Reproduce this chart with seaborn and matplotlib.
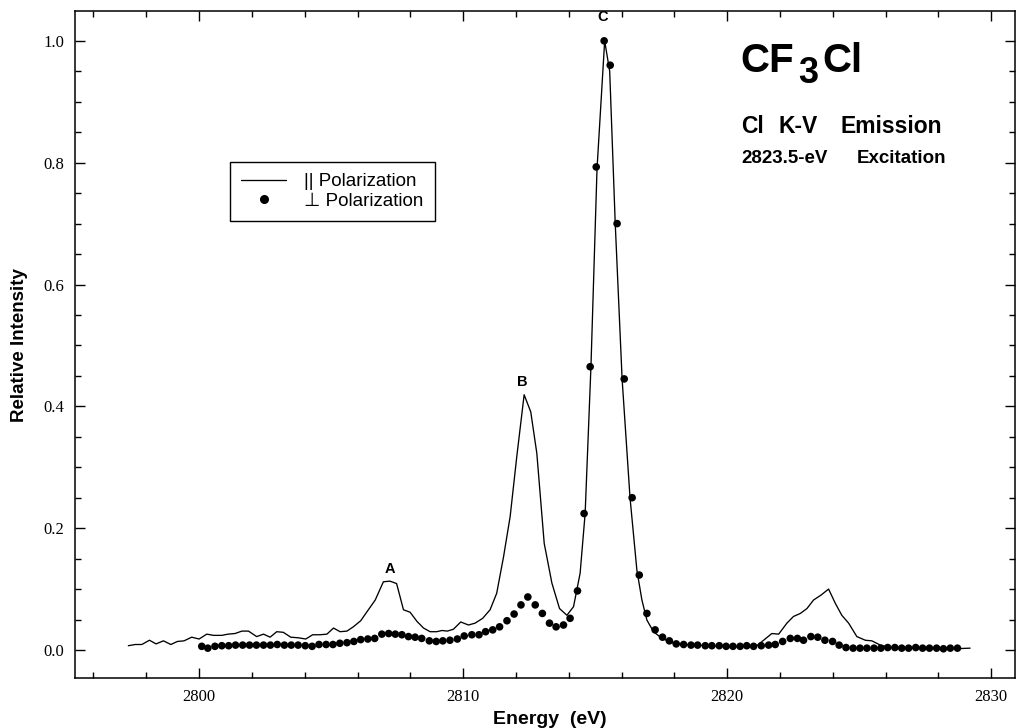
import matplotlib

matplotlib.use("Agg")
import matplotlib.pyplot as plt
import seaborn as sns
from matplotlib.lines import Line2D
from matplotlib.ticker import FormatStrFormatter, MultipleLocator

# parallel polarization (solid line)
para_energy = [
    2797.32, 2797.58, 2797.83, 2798.12, 2798.37, 2798.65, 2798.93, 2799.18, 2799.43, 2799.72,
    2800.00, 2800.29, 2800.55, 2800.86, 2801.10, 2801.36, 2801.62, 2801.87, 2802.18, 2802.44,
    2802.69, 2802.94, 2803.19, 2803.47, 2803.76, 2804.04, 2804.30, 2804.58, 2804.84, 2805.09,
    2805.34, 2805.60, 2805.84, 2806.12, 2806.41, 2806.67, 2806.98, 2807.23, 2807.48, 2807.74,
    2807.99, 2808.25, 2808.50, 2808.75, 2809.00, 2809.20, 2809.40, 2809.63, 2809.91, 2810.20,
    2810.45, 2810.74, 2811.02, 2811.27, 2811.53, 2811.78, 2812.03, 2812.31, 2812.56, 2812.79,
    2813.07, 2813.36, 2813.65, 2813.93, 2814.18, 2814.43, 2814.62, 2814.84, 2815.07, 2815.36,
    2815.55, 2815.76, 2816.02, 2816.32, 2816.58, 2816.77, 2816.96, 2817.21, 2817.53, 2817.97,
    2818.40, 2818.80, 2819.30, 2819.80, 2820.24, 2820.70, 2821.12, 2821.38, 2821.69, 2821.95,
    2822.26, 2822.51, 2822.77, 2823.02, 2823.27, 2823.55, 2823.84, 2824.09, 2824.34, 2824.60,
    2824.91, 2825.23, 2825.48, 2825.80, 2826.20, 2826.80, 2827.40, 2828.00, 2828.60, 2829.20,
]
para_intensity = [
    0.007, 0.009, 0.009, 0.016, 0.010, 0.015, 0.009, 0.014, 0.015, 0.021,
    0.018, 0.026, 0.024, 0.024, 0.026, 0.027, 0.031, 0.031, 0.022, 0.026,
    0.021, 0.030, 0.029, 0.021, 0.020, 0.018, 0.025, 0.025, 0.026, 0.036,
    0.030, 0.031, 0.038, 0.048, 0.066, 0.082, 0.112, 0.113, 0.109, 0.066,
    0.062, 0.047, 0.036, 0.030, 0.030, 0.032, 0.031, 0.034, 0.046, 0.041,
    0.044, 0.052, 0.066, 0.093, 0.153, 0.219, 0.317, 0.419, 0.391, 0.323,
    0.175, 0.110, 0.068, 0.057, 0.071, 0.126, 0.224, 0.465, 0.790, 1.000,
    0.950, 0.700, 0.445, 0.250, 0.131, 0.082, 0.049, 0.030, 0.019, 0.011,
    0.009, 0.008, 0.007, 0.006, 0.005, 0.006, 0.007, 0.016, 0.027, 0.026,
    0.044, 0.055, 0.060, 0.068, 0.082, 0.090, 0.100, 0.077, 0.057, 0.044,
    0.022, 0.016, 0.015, 0.008, 0.004, 0.003, 0.003, 0.003, 0.002, 0.003,
]

# perpendicular polarization (dots)
perp_energy = [
    2800.10, 2800.33, 2800.60, 2800.86, 2801.12, 2801.38, 2801.65, 2801.91, 2802.17, 2802.44,
    2802.70, 2802.96, 2803.23, 2803.49, 2803.75, 2804.02, 2804.28, 2804.54, 2804.81, 2805.07,
    2805.33, 2805.60, 2805.86, 2806.12, 2806.39, 2806.65, 2806.92, 2807.18, 2807.43, 2807.68,
    2807.93, 2808.18, 2808.43, 2808.72, 2808.98, 2809.23, 2809.50, 2809.78, 2810.04, 2810.33,
    2810.60, 2810.85, 2811.12, 2811.38, 2811.66, 2811.93, 2812.19, 2812.45, 2812.73, 2813.00,
    2813.27, 2813.52, 2813.80, 2814.05, 2814.33, 2814.58, 2814.81, 2815.04, 2815.34, 2815.57,
    2815.83, 2816.10, 2816.40, 2816.67, 2816.96, 2817.27, 2817.55, 2817.81, 2818.07, 2818.35,
    2818.63, 2818.88, 2819.17, 2819.42, 2819.70, 2819.96, 2820.22, 2820.49, 2820.74, 2821.00,
    2821.29, 2821.57, 2821.82, 2822.10, 2822.39, 2822.66, 2822.89, 2823.17, 2823.43, 2823.70,
    2823.99, 2824.24, 2824.50, 2824.77, 2825.03, 2825.29, 2825.56, 2825.82, 2826.08, 2826.35,
    2826.61, 2826.87, 2827.14, 2827.40, 2827.66, 2827.93, 2828.19, 2828.45, 2828.72,
]
perp_intensity = [
    0.006, 0.003, 0.006, 0.007, 0.007, 0.008, 0.008, 0.008, 0.008, 0.008,
    0.008, 0.009, 0.008, 0.008, 0.008, 0.007, 0.006, 0.009, 0.009, 0.009,
    0.011, 0.012, 0.014, 0.017, 0.018, 0.019, 0.026, 0.027, 0.026, 0.025,
    0.022, 0.021, 0.019, 0.015, 0.014, 0.015, 0.016, 0.018, 0.023, 0.025,
    0.025, 0.030, 0.033, 0.038, 0.048, 0.059, 0.074, 0.087, 0.074, 0.060,
    0.044, 0.038, 0.041, 0.052, 0.097, 0.224, 0.465, 0.793, 1.000, 0.960,
    0.700, 0.445, 0.250, 0.123, 0.060, 0.033, 0.021, 0.015, 0.010, 0.009,
    0.008, 0.008, 0.007, 0.007, 0.007, 0.006, 0.006, 0.006, 0.007, 0.006,
    0.007, 0.008, 0.009, 0.014, 0.019, 0.019, 0.016, 0.022, 0.021, 0.016,
    0.014, 0.008, 0.004, 0.003, 0.003, 0.003, 0.003, 0.003, 0.004, 0.004,
    0.003, 0.003, 0.004, 0.003, 0.003, 0.003, 0.002, 0.003, 0.003,
]

peak_labels = ["A", "B", "C"]
peak_energy = [2807.23, 2812.23, 2815.30]
peak_label_y = [0.126, 0.433, 1.033]

W, H = 1016, 728
SANS = ["Liberation Sans", "DejaVu Sans"]
SERIF = ["Liberation Serif", "DejaVu Serif"]

sns.set_style("ticks")
plt.rcParams["font.family"] = SANS
for key in ["text.color", "axes.labelcolor", "xtick.color", "ytick.color", "axes.edgecolor"]:
    plt.rcParams[key] = "black"

fig = plt.figure(figsize=(W / 100, H / 100), dpi=100)
ax = fig.add_axes([75 / W, 1 - 678 / H, 940 / W, 667 / H])

sns.lineplot(x=para_energy, y=para_intensity, ax=ax, color="black",
             linewidth=0.95, sort=False, estimator=None)
sns.scatterplot(x=perp_energy, y=perp_intensity, ax=ax, color="black",
                s=30, edgecolor="none", zorder=3)

ax.set_xlim(2795.3, 2830.9)
ax.set_ylim(-0.046, 1.049)
ax.xaxis.set_major_locator(MultipleLocator(10))
ax.xaxis.set_minor_locator(MultipleLocator(2))
ax.yaxis.set_major_locator(MultipleLocator(0.2))
ax.yaxis.set_minor_locator(MultipleLocator(0.05))
ax.yaxis.set_major_formatter(FormatStrFormatter("%.1f"))
ax.tick_params(which="both", direction="in", top=True, right=True,
               color="black", width=1.0)
ax.tick_params(which="major", length=7, pad=8)
ax.tick_params(which="minor", length=4)
for lab in ax.get_xticklabels() + ax.get_yticklabels():
    lab.set_family(SERIF)
    lab.set_fontsize(12)
for sp in ax.spines.values():
    sp.set_visible(True)
    sp.set_linewidth(1.1)

ax.set_xlabel("")
ax.set_ylabel("")
fig.text(550 / W, 1 - 719 / H, "Energy  (eV)", ha="center", va="center",
         fontsize=14, fontweight="bold")
fig.text(20 / W, 1 - 345 / H, "Relative Intensity", ha="center", va="center",
         rotation=90, fontsize=13.5, fontweight="bold")

for lab, xe, ye in zip(peak_labels, peak_energy, peak_label_y):
    ax.text(xe, ye, lab, ha="center", va="baseline", fontsize=10.5,
            fontweight="bold")

# molecule title with full-size subscript
fig.text(740 / W, 1 - 72 / H, "CF", fontsize=29, fontweight="bold", va="baseline")
fig.text(798 / W, 1 - 83 / H, "3", fontsize=26, fontweight="bold", va="baseline")
fig.text(822 / W, 1 - 72 / H, "Cl", fontsize=29, fontweight="bold", va="baseline")

# the scanned lettering is wide, so each word is centred where it sits
for word, xc in [("Cl", 752), ("K-V", 798), ("Emission", 891)]:
    fig.text(xc / W, 1 - 133 / H, word, fontsize=16.5, fontweight="bold",
             ha="center", va="baseline")
for word, xc in [("2823.5-eV", 785), ("Excitation", 902)]:
    fig.text(xc / W, 1 - 163 / H, word, fontsize=13.5, fontweight="bold",
             ha="center", va="baseline")

handles = [
    Line2D([], [], color="black", linewidth=0.95),
    Line2D([], [], color="black", linestyle="none", marker="o", markersize=5.5),
]
leg = ax.legend(handles, ["|| Polarization", "\u22a5 Polarization"],
                loc="upper left", bbox_to_anchor=((230 - 75) / 940, (678 - 162) / 667),
                borderaxespad=0, fancybox=False, framealpha=1, edgecolor="black",
                handlelength=2.4, handletextpad=0.95, labelspacing=0.12,
                borderpad=0.6, prop={"family": SANS, "size": 13.5})
leg.get_frame().set_linewidth(1.0)

fig.savefig("out.png", dpi=100)
